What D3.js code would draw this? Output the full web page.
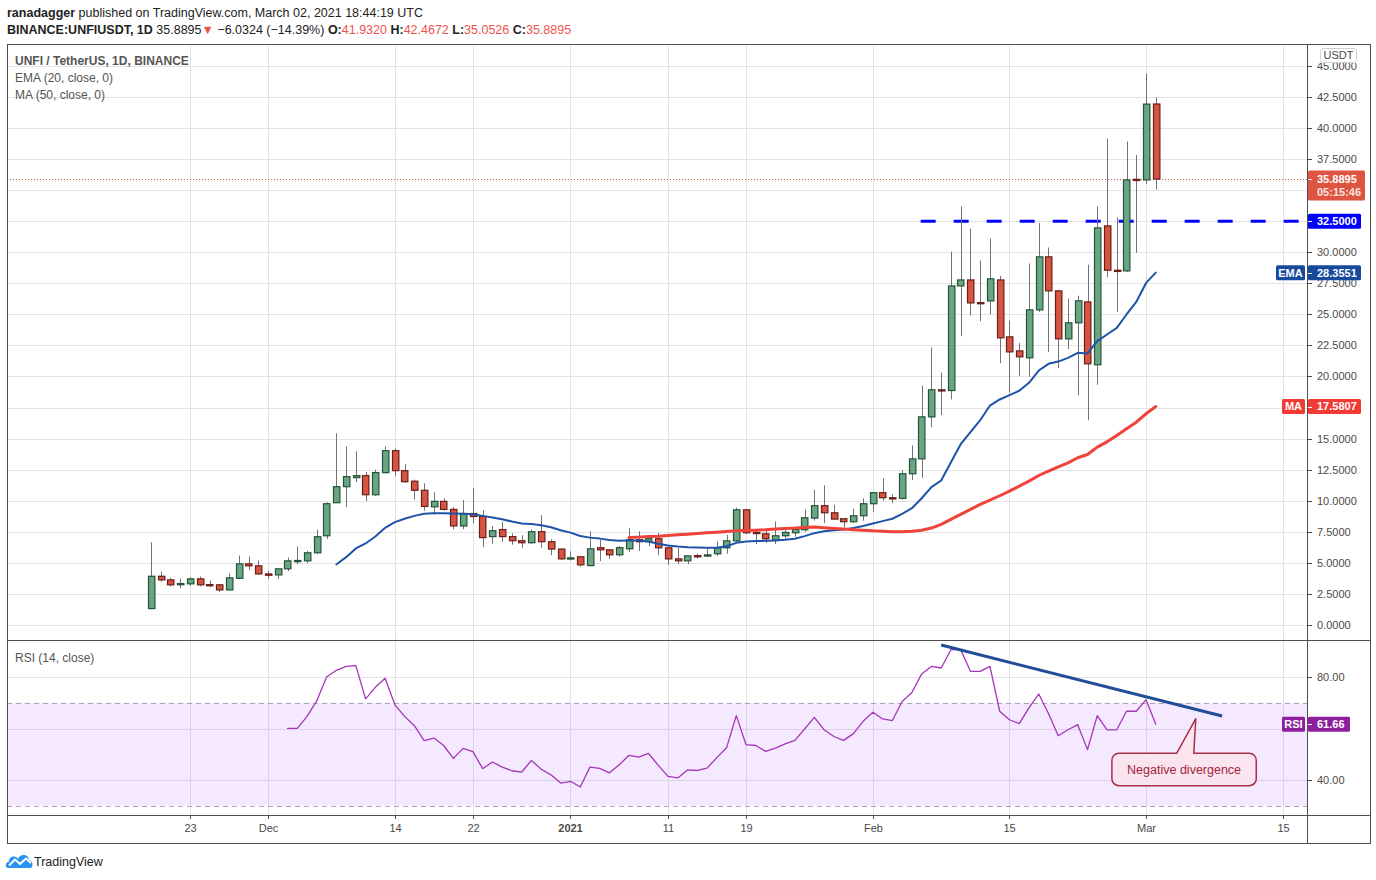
<!DOCTYPE html>
<html>
<head>
<meta charset="utf-8">
<script src="https://cdnjs.cloudflare.com/ajax/libs/d3/7.8.5/d3.min.js"></script>
<style>
  html, body { margin: 0; padding: 0; background: #fff; }
  svg { display: block; font-family: "Liberation Sans", Arial, sans-serif; }
</style>
</head>
<body>
<svg id="chart" width="1376" height="880"></svg>
<script>
// UNFI/USDT daily candles, one per day starting at firstDay
var firstDay = "2020-11-19"

var opens = [1.32, 3.92, 3.63, 3.27, 3.31, 3.71, 3.25, 3.23, 2.82, 3.76,
  4.92, 4.76, 4.11, 4.03, 4.52, 5.13, 5.16, 5.81, 7.18, 9.84,
  11.13, 11.86, 12.02, 10.48, 12.26, 14.03, 12.42, 11.57, 10.84, 9.51,
  9.95, 9.30, 7.97, 8.97, 8.73, 7.11, 7.68, 7.11, 6.78, 6.62,
  7.51, 6.70, 6.11, 5.35, 5.49, 4.78, 6.22, 6.05, 5.65, 6.13,
  6.86, 6.70, 6.94, 6.21, 5.32, 5.16, 5.58, 5.56, 5.73, 6.21,
  6.77, 9.27, 7.45, 7.34, 6.83, 7.18, 7.42, 7.66, 8.60, 9.60,
  9.03, 8.55, 8.31, 8.79, 9.76, 10.65, 10.24, 10.19, 12.17, 13.37,
  16.75, 18.93, 18.87, 27.29, 27.77, 25.95, 26.08, 27.77, 23.19, 22.06,
  21.50, 25.36, 29.63, 26.89, 23.03, 24.32, 26.00, 20.94, 32.12, 28.55,
  28.50, 35.87, 35.82, 41.932]

var highs = [6.64, 4.30, 3.79, 3.74, 3.84, 3.90, 3.58, 3.31, 4.14, 5.59,
  5.51, 5.19, 4.35, 4.52, 5.43, 6.32, 5.97, 7.66, 9.87, 15.43,
  14.38, 13.98, 12.31, 12.50, 14.38, 14.19, 12.93, 11.70, 11.40, 10.68,
  10.19, 9.49, 10.05, 11.03, 9.24, 7.97, 8.30, 7.38, 7.22, 7.70,
  8.84, 6.89, 6.15, 5.92, 5.49, 7.54, 6.84, 6.05, 6.35, 7.78,
  7.54, 7.26, 7.42, 6.21, 6.21, 5.56, 5.75, 6.13, 6.72, 7.26,
  9.44, 9.30, 7.69, 7.82, 8.33, 7.77, 7.88, 9.30, 10.90, 11.24,
  9.68, 8.55, 9.36, 10.19, 10.65, 11.80, 10.51, 12.45, 14.45, 19.27,
  22.33, 20.32, 30.05, 33.70, 31.90, 29.33, 31.10, 28.10, 24.50, 22.70,
  29.09, 32.34, 30.38, 26.97, 26.27, 26.50, 29.00, 33.70, 39.15, 32.80,
  38.91, 37.83, 44.38, 42.4672]

var lows = [1.25, 3.47, 3.09, 2.96, 3.15, 3.09, 3.04, 2.64, 2.80, 3.69,
  4.41, 4.05, 3.71, 3.71, 4.33, 4.89, 4.97, 5.70, 6.91, 9.84,
  9.49, 11.50, 9.97, 10.40, 12.20, 11.99, 11.45, 10.08, 9.19, 8.89,
  9.20, 7.70, 7.70, 8.19, 6.27, 6.54, 6.70, 6.46, 6.19, 6.54,
  6.22, 5.62, 5.24, 5.19, 4.68, 4.73, 5.13, 5.32, 5.49, 5.86,
  5.95, 6.34, 5.62, 4.84, 4.89, 4.89, 5.35, 5.48, 5.54, 5.73,
  6.70, 7.30, 6.51, 6.61, 6.51, 6.88, 7.10, 7.50, 8.40, 8.20,
  8.50, 7.85, 8.20, 8.39, 9.10, 10.00, 9.81, 10.10, 11.66, 11.84,
  15.92, 16.89, 18.15, 23.24, 24.90, 24.45, 25.00, 21.07, 18.70, 20.03,
  19.97, 25.20, 21.96, 20.67, 22.22, 18.50, 16.48, 19.33, 28.00, 25.17,
  28.40, 29.95, 35.50, 35.0526]

var closes = [3.92, 3.63, 3.23, 3.33, 3.71, 3.23, 3.20, 2.82, 3.79, 4.92,
  4.76, 4.11, 4.00, 4.52, 5.16, 5.19, 5.81, 7.10, 9.76, 11.13,
  11.94, 12.02, 10.48, 12.26, 14.03, 12.42, 11.53, 10.84, 9.54, 9.95,
  9.30, 7.97, 8.97, 8.73, 7.03, 7.59, 7.11, 6.78, 6.62, 7.51,
  6.70, 6.11, 5.32, 5.40, 4.84, 6.13, 6.05, 5.65, 6.22, 6.86,
  6.70, 6.94, 6.21, 5.32, 5.16, 5.56, 5.53, 5.64, 6.21, 6.77,
  9.27, 7.42, 7.37, 6.94, 7.18, 7.45, 7.69, 8.63, 9.60, 9.03,
  8.52, 8.31, 8.79, 9.76, 10.65, 10.24, 10.16, 12.17, 13.37, 16.75,
  18.93, 18.87, 27.29, 27.77, 25.92, 25.90, 27.86, 23.11, 21.98, 21.58,
  25.36, 29.63, 26.89, 23.03, 24.32, 26.09, 21.02, 31.96, 28.55, 28.47,
  35.82, 35.77, 41.9219, 35.8895]

// EMA (20) starts on candle 19, MA (50) on candle 49, RSI (14) on candle 14
var emaFirst = 19
var emaValues = [4.87, 5.46, 6.16, 6.56, 7.12, 7.82, 8.28, 8.55, 8.78, 8.95,
  9.00, 9.00, 8.97, 8.95, 8.92, 8.78, 8.65, 8.51, 8.32, 8.16,
  8.13, 8.03, 7.86, 7.62, 7.43, 7.16, 7.03, 6.95, 6.84, 6.78,
  6.80, 6.80, 6.72, 6.53, 6.40, 6.32, 6.26, 6.24, 6.21, 6.21,
  6.34, 6.61, 6.72, 6.75, 6.77, 6.80, 6.86, 6.94, 7.15, 7.39,
  7.55, 7.63, 7.69, 7.80, 7.96, 8.17, 8.36, 8.55, 8.95, 9.40,
  10.20, 11.10, 11.63, 13.10, 14.55, 15.52, 16.48, 17.66, 18.15, 18.50,
  18.85, 19.49, 20.48, 21.02, 21.20, 21.50, 21.90, 21.85, 22.84, 23.38,
  23.91, 24.99, 26.00, 27.53, 28.3551]

var maFirst = 49
var maValues = [7.03, 7.07, 7.12, 7.15, 7.20, 7.26, 7.31, 7.37, 7.42, 7.47,
  7.53, 7.58, 7.61, 7.63, 7.66, 7.72, 7.77, 7.80, 7.85, 7.88,
  7.82, 7.77, 7.72, 7.66, 7.63, 7.58, 7.55, 7.50, 7.50, 7.55,
  7.62, 7.80, 8.10, 8.50, 8.90, 9.30, 9.70, 10.05, 10.40, 10.77,
  11.17, 11.58, 12.03, 12.38, 12.73, 13.05, 13.46, 13.72, 14.31, 14.74,
  15.25, 15.79, 16.32, 17.00, 17.5807]

var rsiFirst = 14
var rsiValues = [60.05, 60.05, 64.7, 70.8, 80.0, 82.6, 84.1, 84.4, 71.5, 76.0,
  79.5, 69.2, 64.7, 61.1, 55.3, 56.3, 53.4, 48.4, 52.3, 51.0,
  44.4, 47.0, 45.0, 43.6, 43.1, 47.6, 44.2, 42.0, 38.8, 39.5,
  37.3, 45.0, 44.5, 42.8, 45.9, 49.6, 48.9, 50.3, 45.7, 41.4,
  40.8, 43.9, 43.7, 44.6, 48.7, 52.5, 65.0, 53.7, 53.4, 51.1,
  52.4, 54.0, 55.4, 59.8, 64.3, 59.5, 56.9, 55.4, 58.0, 62.8,
  66.3, 63.7, 63.1, 70.5, 74.0, 81.2, 84.1, 83.5, 90.6, 90.6,
  82.2, 82.2, 84.1, 66.7, 63.4, 61.9, 68.0, 73.4, 65.8, 57.2,
  59.5, 61.5, 51.8, 65.0, 59.5, 59.5, 66.7, 66.7, 71.2, 61.66]

var priceTicks = [0, 2.5, 5, 7.5, 10, 12.5, 15, 17.5, 20, 22.5, 25, 27.5,
  30, 32.5, 35, 37.5, 40, 42.5, 45]
var rsiGrid = [40, 60, 80]
var rsiTickLabels = [40, 80]
var rsiBand = [30, 70]

var timeTicks = ["2020-11-23", "2020-12-01", "2020-12-14", "2020-12-22",
  "2021-01-01", "2021-01-11", "2021-01-19", "2021-02-01", "2021-02-15",
  "2021-03-01", "2021-03-15"]
var timeTickLabels = ["23", "Dec", "14", "22", "2021", "11", "19", "Feb",
  "15", "Mar", "15"]

// drawn analysis: resistance level, RSI trend line (day offset, rsi), note
var levelPrice = 32.5
var levelFromDay = 78.9
var trendDays = [81.0, 109.8]
var trendRsi = [92.4, 64.85]
var noteText = "Negative divergence"
var noteTip = [107.1, 63.8]
var noteBox = [98.5, 113.3, 50.4, 37.8]

var chart = (function(){
  "use strict"

  var viz = {}

  var left = 7, plotRight = 1307, right = 1370
  var priceTop = 44, priceBottom = 640, rsiBottom = 815, bottom = 843

  var green = "#6ba583", greenLine = "#225437"
  var red = "#d75442", redLine = "#6b1f17"
  var wickColor = "#737375"
  var gridColor = "#e4e4e4"
  var frameColor = "#4d4d4d"
  var textColor = "#4a4a4a"
  var emaColor = "#1e53a8"
  var maColor = "#f0423a"
  var rsiColor = "#a535b8"

  var start = new Date(firstDay + "T00:00:00Z")

  viz.dayAt = function(i) {
    return new Date(start.getTime() + i * 864e5)
  }

  viz.crisp = function(v) {
    return Math.round(v) + 0.5
  }

  viz.scales = function() {
    return {
      x: d3.scaleUtc()
        .domain([viz.dayAt(-14.76), viz.dayAt(118.5)])
        .range([left, plotRight]),
      price: d3.scaleLinear()
        .domain([-1.21, 46.76])
        .range([priceBottom, priceTop]),
      rsi: d3.scaleLinear()
        .domain([26.41, 94.37])
        .range([rsiBottom, priceBottom])
    }
  }

  viz.drawHeader = function(svg) {
    var t1 = svg.append("text")
      .attr("x", left).attr("y", 17)
      .attr("font-size", 12.5).attr("fill", "#222")
    t1.append("tspan").attr("font-weight", "bold").text("ranadagger")
    t1.append("tspan").text(" published on TradingView.com, March 02, 2021 18:44:19 UTC")

    var t2 = svg.append("text")
      .attr("x", left).attr("y", 34)
      .attr("font-size", 12.5).attr("fill", "#222")
    var last = opens.length - 1
    var change = closes[last] - closes[last - 1]
    var parts = [
      ["BINANCE:UNFIUSDT, 1D", "bold", "#222"],
      [" " + closes[last].toFixed(4), "normal", "#222"],
      ["\u25BC", "normal", "#ef5350"],
      [" \u2212" + Math.abs(change).toFixed(4) + " (\u2212" +
        Math.abs(change / closes[last - 1] * 100).toFixed(2) + "%) ", "normal", "#222"],
      ["O:", "bold", "#222"], [opens[last].toFixed(4), "normal", "#ef5350"],
      [" H:", "bold", "#222"], [highs[last].toFixed(4), "normal", "#ef5350"],
      [" L:", "bold", "#222"], [lows[last].toFixed(4), "normal", "#ef5350"],
      [" C:", "bold", "#222"], [closes[last].toFixed(4), "normal", "#ef5350"]
    ]
    parts.forEach(function(p){
      t2.append("tspan").attr("font-weight", p[1]).attr("fill", p[2])
        .attr("xml:space", "preserve").text(p[0])
    })
  }

  viz.drawGrid = function(svg, s) {
    var g = svg.append("g")

    g.selectAll(".pgrid").data(priceTicks).enter().append("line")
      .attr("x1", left).attr("x2", plotRight)
      .attr("y1", function(d){ return viz.crisp(s.price(d)) })
      .attr("y2", function(d){ return viz.crisp(s.price(d)) })
      .attr("stroke", gridColor)

    g.selectAll(".rgrid").data(rsiGrid).enter().append("line")
      .attr("x1", left).attr("x2", plotRight)
      .attr("y1", function(d){ return viz.crisp(s.rsi(d)) })
      .attr("y2", function(d){ return viz.crisp(s.rsi(d)) })
      .attr("stroke", gridColor)

    g.selectAll(".vgrid").data(timeTicks).enter().append("line")
      .attr("x1", function(d){ return viz.crisp(s.x(new Date(d))) })
      .attr("x2", function(d){ return viz.crisp(s.x(new Date(d))) })
      .attr("y1", priceTop).attr("y2", rsiBottom)
      .attr("stroke", gridColor)

    // RSI 30-70 band
    g.append("rect")
      .attr("x", left).attr("width", plotRight - left)
      .attr("y", s.rsi(rsiBand[1]))
      .attr("height", s.rsi(rsiBand[0]) - s.rsi(rsiBand[1]))
      .attr("fill", "rgb(171, 71, 255)").attr("fill-opacity", 0.12)

    g.selectAll(".band").data(rsiBand).enter().append("line")
      .attr("x1", left).attr("x2", plotRight)
      .attr("y1", function(d){ return viz.crisp(s.rsi(d)) })
      .attr("y2", function(d){ return viz.crisp(s.rsi(d)) })
      .attr("stroke", "#aca3b4").attr("stroke-dasharray", "5,4")
  }

  viz.drawCandles = function(svg, s) {
    var bars = opens.map(function(o, i){
      return { date: viz.dayAt(i), o: o, h: highs[i], l: lows[i], c: closes[i] }
    })
    var half = 3.2

    var g = svg.append("g").selectAll("g")
      .data(bars).enter().append("g")

    g.append("line")
      .attr("x1", function(d){ return viz.crisp(s.x(d.date)) })
      .attr("x2", function(d){ return viz.crisp(s.x(d.date)) })
      .attr("y1", function(d){ return s.price(d.h) })
      .attr("y2", function(d){ return s.price(d.l) })
      .attr("stroke", wickColor)

    g.append("rect")
      .attr("x", function(d){ return Math.round(s.x(d.date) - half) + 0.5 })
      .attr("width", half * 2)
      .attr("y", function(d){ return s.price(Math.max(d.o, d.c)) })
      .attr("height", function(d){
        return Math.max(1.2, Math.abs(s.price(d.o) - s.price(d.c)))
      })
      .attr("fill", function(d){ return d.c >= d.o ? green : red })
      .attr("stroke", function(d){ return d.c >= d.o ? greenLine : redLine })
      .attr("stroke-width", 1.2)
  }

  viz.drawLine = function(svg, s, values, first, y, color, width) {
    var line = d3.line()
      .x(function(d, i){ return s.x(viz.dayAt(first + i)) })
      .y(function(d){ return y(d) })
    svg.append("path")
      .datum(values)
      .attr("d", line)
      .attr("fill", "none")
      .attr("stroke", color)
      .attr("stroke-width", width)
      .attr("stroke-linejoin", "round")
      .attr("stroke-linecap", "round")
  }

  viz.drawLevels = function(svg, s) {
    var last = closes[closes.length - 1]
    svg.append("line")
      .attr("x1", left).attr("x2", plotRight)
      .attr("y1", viz.crisp(s.price(last))).attr("y2", viz.crisp(s.price(last)))
      .attr("stroke", "#e0503c").attr("stroke-dasharray", "1,2")

    svg.append("line")
      .attr("x1", s.x(viz.dayAt(levelFromDay))).attr("x2", plotRight)
      .attr("y1", s.price(levelPrice)).attr("y2", s.price(levelPrice))
      .attr("stroke", "#0000ff").attr("stroke-width", 3)
      .attr("stroke-dasharray", "15,18")
  }

  viz.drawAnnotation = function(svg, s) {
    svg.append("line")
      .attr("x1", s.x(viz.dayAt(trendDays[0]))).attr("y1", s.rsi(trendRsi[0]))
      .attr("x2", s.x(viz.dayAt(trendDays[1]))).attr("y2", s.rsi(trendRsi[1]))
      .attr("stroke", "#1f4e96").attr("stroke-width", 3)

    var bx0 = s.x(viz.dayAt(noteBox[0])), bx1 = s.x(viz.dayAt(noteBox[1]))
    var by0 = s.rsi(noteBox[2]), by1 = s.rsi(noteBox[3])
    var tx = s.x(viz.dayAt(noteTip[0])), ty = s.rsi(noteTip[1])
    var r = 7
    var p = d3.path()
    p.moveTo(bx0 + r, by0)
    p.lineTo(tx - 19, by0)
    p.lineTo(tx, ty)
    p.lineTo(tx - 2, by0)
    p.lineTo(bx1 - r, by0)
    p.arcTo(bx1, by0, bx1, by0 + r, r)
    p.lineTo(bx1, by1 - r)
    p.arcTo(bx1, by1, bx1 - r, by1, r)
    p.lineTo(bx0 + r, by1)
    p.arcTo(bx0, by1, bx0, by1 - r, r)
    p.lineTo(bx0, by0 + r)
    p.arcTo(bx0, by0, bx0 + r, by0, r)
    p.closePath()
    svg.append("path")
      .attr("d", p.toString())
      .attr("fill", "#fbe3ee").attr("fill-opacity", 0.9)
      .attr("stroke", "#a63046").attr("stroke-width", 1.5)
      .attr("stroke-linejoin", "round")

    svg.append("text")
      .attr("x", (bx0 + bx1) / 2).attr("y", (by0 + by1) / 2)
      .attr("dy", "0.35em").attr("text-anchor", "middle")
      .attr("font-size", 12.5).attr("fill", "#a3243c")
      .text(noteText)
  }

  viz.drawFrame = function(svg) {
    var g = svg.append("g").attr("stroke", frameColor).attr("fill", "none")
    g.append("rect")
      .attr("x", left + 0.5).attr("y", priceTop + 0.5)
      .attr("width", right - left).attr("height", bottom - priceTop)
    g.append("line").attr("x1", plotRight + 0.5).attr("x2", plotRight + 0.5)
      .attr("y1", priceTop).attr("y2", bottom)
    g.append("line").attr("x1", left).attr("x2", right)
      .attr("y1", priceBottom + 0.5).attr("y2", priceBottom + 0.5)
    g.append("line").attr("x1", left).attr("x2", right)
      .attr("y1", rsiBottom + 0.5).attr("y2", rsiBottom + 0.5)
  }

  // pixel rows taken by the price tags; tick labels under them stay hidden
  viz.tagRows = function(s) {
    var last = closes.length - 1
    var cy = s.price(closes[last])
    return [
      [cy - 9, cy + 22],
      [s.price(levelPrice) - 8, s.price(levelPrice) + 8],
      [s.price(maValues[maValues.length - 1]) - 8, s.price(maValues[maValues.length - 1]) + 8]
    ]
  }

  viz.drawAxes = function(svg, s) {
    var g = svg.append("g").attr("font-size", 11).attr("fill", textColor)
    var rows = viz.tagRows(s)
    var hidden = function(d){
      var y = s.price(d)
      return rows.some(function(r){ return y > r[0] && y < r[1] })
    }

    // the top label sits half under the currency button
    svg.append("clipPath").attr("id", "axis-clip")
      .append("rect").attr("x", plotRight).attr("y", 63)
      .attr("width", right - plotRight).attr("height", priceBottom - 63)

    var pt = g.selectAll(".pt").data(priceTicks).enter().append("g")
      .attr("transform", function(d){ return "translate(0," + viz.crisp(s.price(d)) + ")" })
    pt.append("line").attr("x1", plotRight).attr("x2", plotRight + 5)
      .attr("stroke", frameColor)
    g.selectAll(".ptl").data(priceTicks.filter(function(d){ return !hidden(d) }))
      .enter().append("text")
      .attr("clip-path", "url(#axis-clip)")
      .attr("x", plotRight + 10)
      .attr("y", function(d){ return viz.crisp(s.price(d)) })
      .attr("dy", "0.35em")
      .text(function(d){ return d3.format(".4f")(d) })

    var rt = g.selectAll(".rt").data(rsiTickLabels).enter().append("g")
      .attr("transform", function(d){ return "translate(0," + viz.crisp(s.rsi(d)) + ")" })
    rt.append("line").attr("x1", plotRight).attr("x2", plotRight + 5)
      .attr("stroke", frameColor)
    rt.append("text").attr("x", plotRight + 10).attr("dy", "0.35em")
      .text(function(d){ return d3.format(".2f")(d) })

    var tt = g.selectAll(".tt").data(timeTicks).enter().append("g")
      .attr("transform", function(d){ return "translate(" + viz.crisp(s.x(new Date(d))) + ",0)" })
    tt.append("line").attr("y1", rsiBottom).attr("y2", rsiBottom + 4)
      .attr("stroke", frameColor)
    tt.append("text").attr("y", 832).attr("text-anchor", "middle")
      .attr("font-weight", function(d, i){ return timeTickLabels[i] === "2021" ? "bold" : "normal" })
      .text(function(d, i){ return timeTickLabels[i] })

    // currency button
    g.append("rect").attr("x", 1320.5).attr("y", 48.5).attr("width", 36).attr("height", 14)
      .attr("rx", 3).attr("fill", "#fff").attr("stroke", "#cfcfcf")
    g.append("text").attr("x", 1338.5).attr("y", 55.5).attr("dy", "0.35em")
      .attr("text-anchor", "middle").text("USDT")
  }

  viz.tag = function(svg, y, label, color, width, name, nameWidth) {
    var g = svg.append("g").attr("font-size", 11).attr("font-weight", "bold")
    g.append("rect").attr("x", plotRight + 1).attr("y", y - 7.5)
      .attr("width", width).attr("height", 15).attr("rx", 1.5).attr("fill", color)
    g.append("line").attr("x1", plotRight + 1).attr("x2", plotRight + 5)
      .attr("y1", viz.crisp(y)).attr("y2", viz.crisp(y)).attr("stroke", "#fff")
    g.append("text").attr("x", plotRight + 10).attr("y", y).attr("dy", "0.35em")
      .attr("fill", "#fff").text(label)
    if (name) {
      g.append("rect").attr("x", plotRight - 2 - nameWidth).attr("y", y - 7.5)
        .attr("width", nameWidth).attr("height", 15).attr("rx", 1.5).attr("fill", color)
      g.append("text").attr("x", plotRight - 2 - nameWidth / 2).attr("y", y)
        .attr("dy", "0.35em").attr("text-anchor", "middle")
        .attr("fill", "#fff").text(name)
    }
  }

  viz.drawTags = function(svg, s) {
    var last = closes.length - 1
    var cy = s.price(closes[last])
    var g = svg.append("g").attr("font-size", 11).attr("font-weight", "bold")
    g.append("rect").attr("x", plotRight + 1).attr("y", cy - 8.5)
      .attr("width", 57).attr("height", 30).attr("rx", 1.5).attr("fill", "#dd5540")
    g.append("line").attr("x1", plotRight + 1).attr("x2", plotRight + 5)
      .attr("y1", viz.crisp(cy)).attr("y2", viz.crisp(cy)).attr("stroke", "#fff")
    g.append("text").attr("x", plotRight + 10).attr("y", cy).attr("dy", "0.35em")
      .attr("fill", "#fff").text(closes[last].toFixed(4))
    g.append("text").attr("x", plotRight + 10).attr("y", cy + 13).attr("dy", "0.35em")
      .attr("fill", "#fde3de").text("05:15:46")

    viz.tag(svg, s.price(levelPrice), levelPrice.toFixed(4), "#0000ff", 53)
    viz.tag(svg, s.price(emaValues[emaValues.length - 1]),
      emaValues[emaValues.length - 1].toFixed(4), "#174a9c", 53, "EMA", 29)
    viz.tag(svg, s.price(maValues[maValues.length - 1]),
      maValues[maValues.length - 1].toFixed(4), "#f23b35", 53, "MA", 23)
    viz.tag(svg, s.rsi(rsiValues[rsiValues.length - 1]),
      rsiValues[rsiValues.length - 1].toFixed(2), "#8e1f9c", 42, "RSI", 23)
  }

  viz.drawLegends = function(svg) {
    var g = svg.append("g").attr("font-size", 12).attr("fill", "#555")
    g.append("text").attr("x", 15).attr("y", 65).attr("font-weight", "bold")
      .text("UNFI / TetherUS, 1D, BINANCE")
    g.append("text").attr("x", 15).attr("y", 82).text("EMA (20, close, 0)")
    g.append("text").attr("x", 15).attr("y", 99).text("MA (50, close, 0)")
    g.append("text").attr("x", 15).attr("y", 662).text("RSI (14, close)")
  }

  viz.drawLogo = function(svg) {
    var g = svg.append("g").attr("transform", "translate(6,852)")
    g.append("path")
      .attr("d", "M2,16 C-1,16 -1,10 3,9.5 C3,4 10,3 12,7 C14,1 23,2 23,8 C27,8 28,16 24,16 Z")
      .attr("fill", "#2a93f0")
    g.append("polyline")
      .attr("points", "3,13.5 9,7.5 14,12 20,6.5 25,11")
      .attr("fill", "none").attr("stroke", "#fff").attr("stroke-width", 2)
      .attr("stroke-linejoin", "round")
    svg.append("text").attr("x", 34).attr("y", 866)
      .attr("font-size", 12.5).attr("fill", "#222").text("TradingView")
  }

  viz.init = function(svgId) {
    var svg = d3.select(svgId)
    var s = viz.scales()

    viz.drawHeader(svg)
    viz.drawGrid(svg, s)
    viz.drawLegends(svg)
    viz.drawLevels(svg, s)
    viz.drawCandles(svg, s)
    viz.drawLine(svg, s, emaValues, emaFirst, s.price, emaColor, 2)
    viz.drawLine(svg, s, maValues, maFirst, s.price, maColor, 3)
    viz.drawLine(svg, s, rsiValues, rsiFirst, s.rsi, rsiColor, 1.3)
    viz.drawAnnotation(svg, s)
    viz.drawFrame(svg)
    viz.drawAxes(svg, s)
    viz.drawTags(svg, s)
    viz.drawLogo(svg)
  }

  return viz
})()

chart.init("#chart")
</script>
</body>
</html>
